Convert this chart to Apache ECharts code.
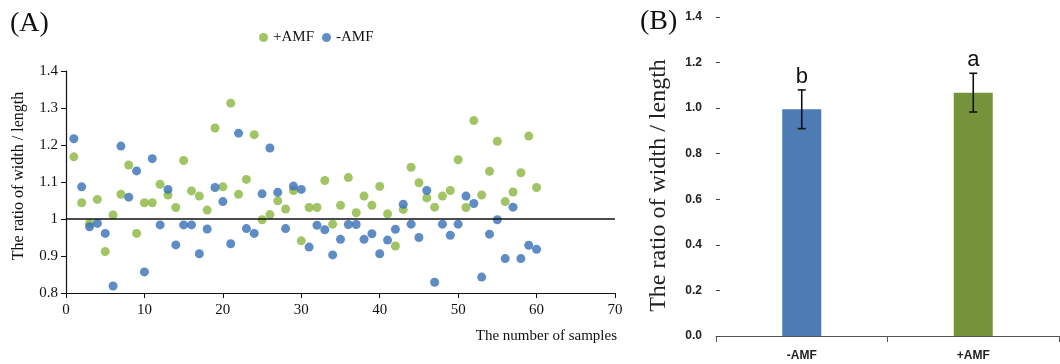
<!DOCTYPE html>
<html>
<head>
<meta charset="utf-8">
<script src="https://cdn.jsdelivr.net/npm/echarts@6/dist/echarts.min.js"></script>
<style>
  html, body { margin: 0; padding: 0; background: #fff; }
  #chart { width: 1060px; height: 364px; }
</style>
</head>
<body>
<div id="chart"></div>
<script>
// panel A: width/length ratio per sample
const plusAMF = [
  1.168, 1.044, 0.988, 1.053, 0.912, 1.011, 1.067, 1.146, 0.961, 1.044,
  1.044, 1.094, 1.065, 1.031, 1.158, 1.076, 1.062, 1.024, 1.246, 1.087,
  1.313, 1.067, 1.107, 1.228, 0.998, 1.012, 1.049, 1.027, 1.077, 0.941,
  1.031, 1.031, 1.104, 0.986, 1.037, 1.112, 1.017, 1.062, 1.037, 1.088,
  1.014, 0.927, 1.026, 1.140, 1.098, 1.057, 1.032, 1.062, 1.077, 1.160,
  1.031, 1.266, 1.065, 1.129, 1.210, 1.047, 1.073, 1.125, 1.224, 1.085
]
const minusAMF = [
  1.217, 1.087, 0.979, 0.988, 0.961, 0.819, 1.197, 1.059, 1.130, 0.857,
  1.163, 0.984, 1.080, 0.930, 0.984, 0.984, 0.906, 0.973, 1.085, 1.047,
  0.933, 1.232, 0.974, 0.961, 1.068, 1.192, 1.072, 0.974, 1.089, 1.080,
  0.924, 0.983, 0.971, 0.903, 0.945, 0.985, 0.985, 0.945, 0.960, 0.906,
  0.943, 0.972, 1.040, 0.986, 0.950, 1.077, 0.829, 0.986, 0.956, 0.986,
  1.062, 1.042, 0.843, 0.959, 0.998, 0.893, 1.032, 0.893, 0.929, 0.918
]
const referenceLevel = 1

// panel B: group means with error bars
const groups = ['-AMF', '+AMF']
const means = [0.995, 1.068]
const errors = [0.085, 0.085]
const letters = ['b', 'a']

const GREEN_DOT = '#8ab53f'
const BLUE_DOT = '#376fb5'
const BAR_COLORS = ['#4f7bb5', '#76923b']
const SERIF = '"Liberation Serif", "DejaVu Serif", serif'
const SANS = '"Liberation Sans", Arial, sans-serif'

function toPoints(values) {
  return values.map((v, i) => [i + 1, v])
}

const chart = echarts.init(document.getElementById('chart'))

chart.setOption({
  animation: false,
  textStyle: { fontFamily: SERIF },
  graphic: [
    { type: 'text', left: 10, top: 10, style: { text: '(A)', font: '28px ' + SERIF, fill: '#111' } },
    { type: 'text', left: 640, top: 8, style: { text: '(B)', font: '28px ' + SERIF, fill: '#111' } },
  ],
  legend: {
    data: ['+AMF', '-AMF'],
    left: 254,
    top: 25,
    icon: 'circle',
    itemWidth: 9,
    itemHeight: 9,
    itemGap: 8,
    textStyle: { fontFamily: SERIF, fontSize: 15, color: '#111' },
  },
  grid: [
    { left: 66, top: 71, width: 549, height: 222 },
    { left: 716, top: 17, width: 343, height: 319 },
  ],
  xAxis: [
    {
      gridIndex: 0,
      type: 'value',
      min: 0,
      max: 70,
      interval: 10,
      name: 'The number of samples',
      nameLocation: 'end',
      nameGap: 2,
      nameTextStyle: { fontFamily: SERIF, fontSize: 15, color: '#111', align: 'right', verticalAlign: 'top', padding: [36, 0, 0, 0] },
      axisLine: { lineStyle: { color: '#111', width: 1.2 } },
      axisTick: { inside: false, length: 5, lineStyle: { color: '#111' } },
      axisLabel: { fontFamily: SERIF, fontSize: 15, color: '#111', margin: 10 },
      splitLine: { show: false },
    },
    {
      gridIndex: 1,
      type: 'category',
      data: groups,
      axisLine: { lineStyle: { color: '#555', width: 1 } },
      axisTick: { show: true, length: 6, lineStyle: { color: '#555' } },
      axisLabel: { fontFamily: SANS, fontSize: 12, fontWeight: 'bold', color: '#222', margin: 14 },
    },
  ],
  yAxis: [
    {
      gridIndex: 0,
      type: 'value',
      min: 0.8,
      max: 1.4,
      interval: 0.1,
      name: 'The ratio of width / length',
      nameLocation: 'middle',
      nameGap: 39,
      nameTextStyle: { fontFamily: SERIF, fontSize: 16, color: '#111', padding: [0, 0, 0, 12] },
      axisLine: { show: true, lineStyle: { color: '#111', width: 1.2 } },
      axisTick: { show: true, inside: false, length: 5, lineStyle: { color: '#111' } },
      axisLabel: { fontFamily: SERIF, fontSize: 15, color: '#111', margin: 8 },
      splitLine: { show: false },
    },
    {
      gridIndex: 1,
      type: 'value',
      min: 0,
      max: 1.4,
      interval: 0.2,
      name: 'The ratio of width / length',
      nameLocation: 'middle',
      nameGap: 45,
      nameTextStyle: { fontFamily: SERIF, fontSize: 24, color: '#222', padding: [0, 18, 0, 0] },
      axisLine: { show: false },
      axisTick: { show: true, inside: true, length: 4, lineStyle: { color: '#444' } },
      axisLabel: { fontFamily: SANS, fontSize: 12, fontWeight: 'bold', color: '#222', margin: 14, formatter: (v) => v.toFixed(1) },
      splitLine: { show: false },
    },
  ],
  series: [
    {
      name: '+AMF',
      type: 'scatter',
      xAxisIndex: 0,
      yAxisIndex: 0,
      data: toPoints(plusAMF),
      symbolSize: 9,
      itemStyle: { color: GREEN_DOT },
      markLine: {
        silent: true,
        symbol: 'none',
        label: { show: false },
        lineStyle: { color: '#111', width: 1.6, type: 'solid' },
        data: [[{ coord: [0, referenceLevel] }, { coord: [70, referenceLevel] }]],
      },
    },
    {
      name: '-AMF',
      type: 'scatter',
      xAxisIndex: 0,
      yAxisIndex: 0,
      data: toPoints(minusAMF),
      symbolSize: 9,
      itemStyle: { color: BLUE_DOT },
    },
    {
      type: 'bar',
      xAxisIndex: 1,
      yAxisIndex: 1,
      barWidth: 39,
      z: 2,
      data: means.map((v, i) => ({ value: v, itemStyle: { color: BAR_COLORS[i] } })),
    },
    {
      type: 'custom',
      xAxisIndex: 1,
      yAxisIndex: 1,
      z: 10,
      data: means.map((m, i) => [i, m, errors[i]]),
      renderItem: (params, api) => {
        const idx = api.value(0)
        const m = api.value(1)
        const e = api.value(2)
        const top = api.coord([idx, m + e])
        const bot = api.coord([idx, m - e])
        const cap = 4
        const style = { stroke: '#111', lineWidth: 1.6 }
        return {
          type: 'group',
          children: [
            { type: 'line', shape: { x1: top[0], y1: top[1], x2: bot[0], y2: bot[1] }, style },
            { type: 'line', shape: { x1: top[0] - cap, y1: top[1], x2: top[0] + cap, y2: top[1] }, style },
            { type: 'line', shape: { x1: bot[0] - cap, y1: bot[1], x2: bot[0] + cap, y2: bot[1] }, style },
            {
              type: 'text',
              x: top[0],
              y: top[1] - 2,
              style: { text: letters[idx], font: '22px ' + SANS, fill: '#111', align: 'center', verticalAlign: 'bottom' },
            },
          ],
        }
      },
    },
  ],
})
</script>
</body>
</html>
